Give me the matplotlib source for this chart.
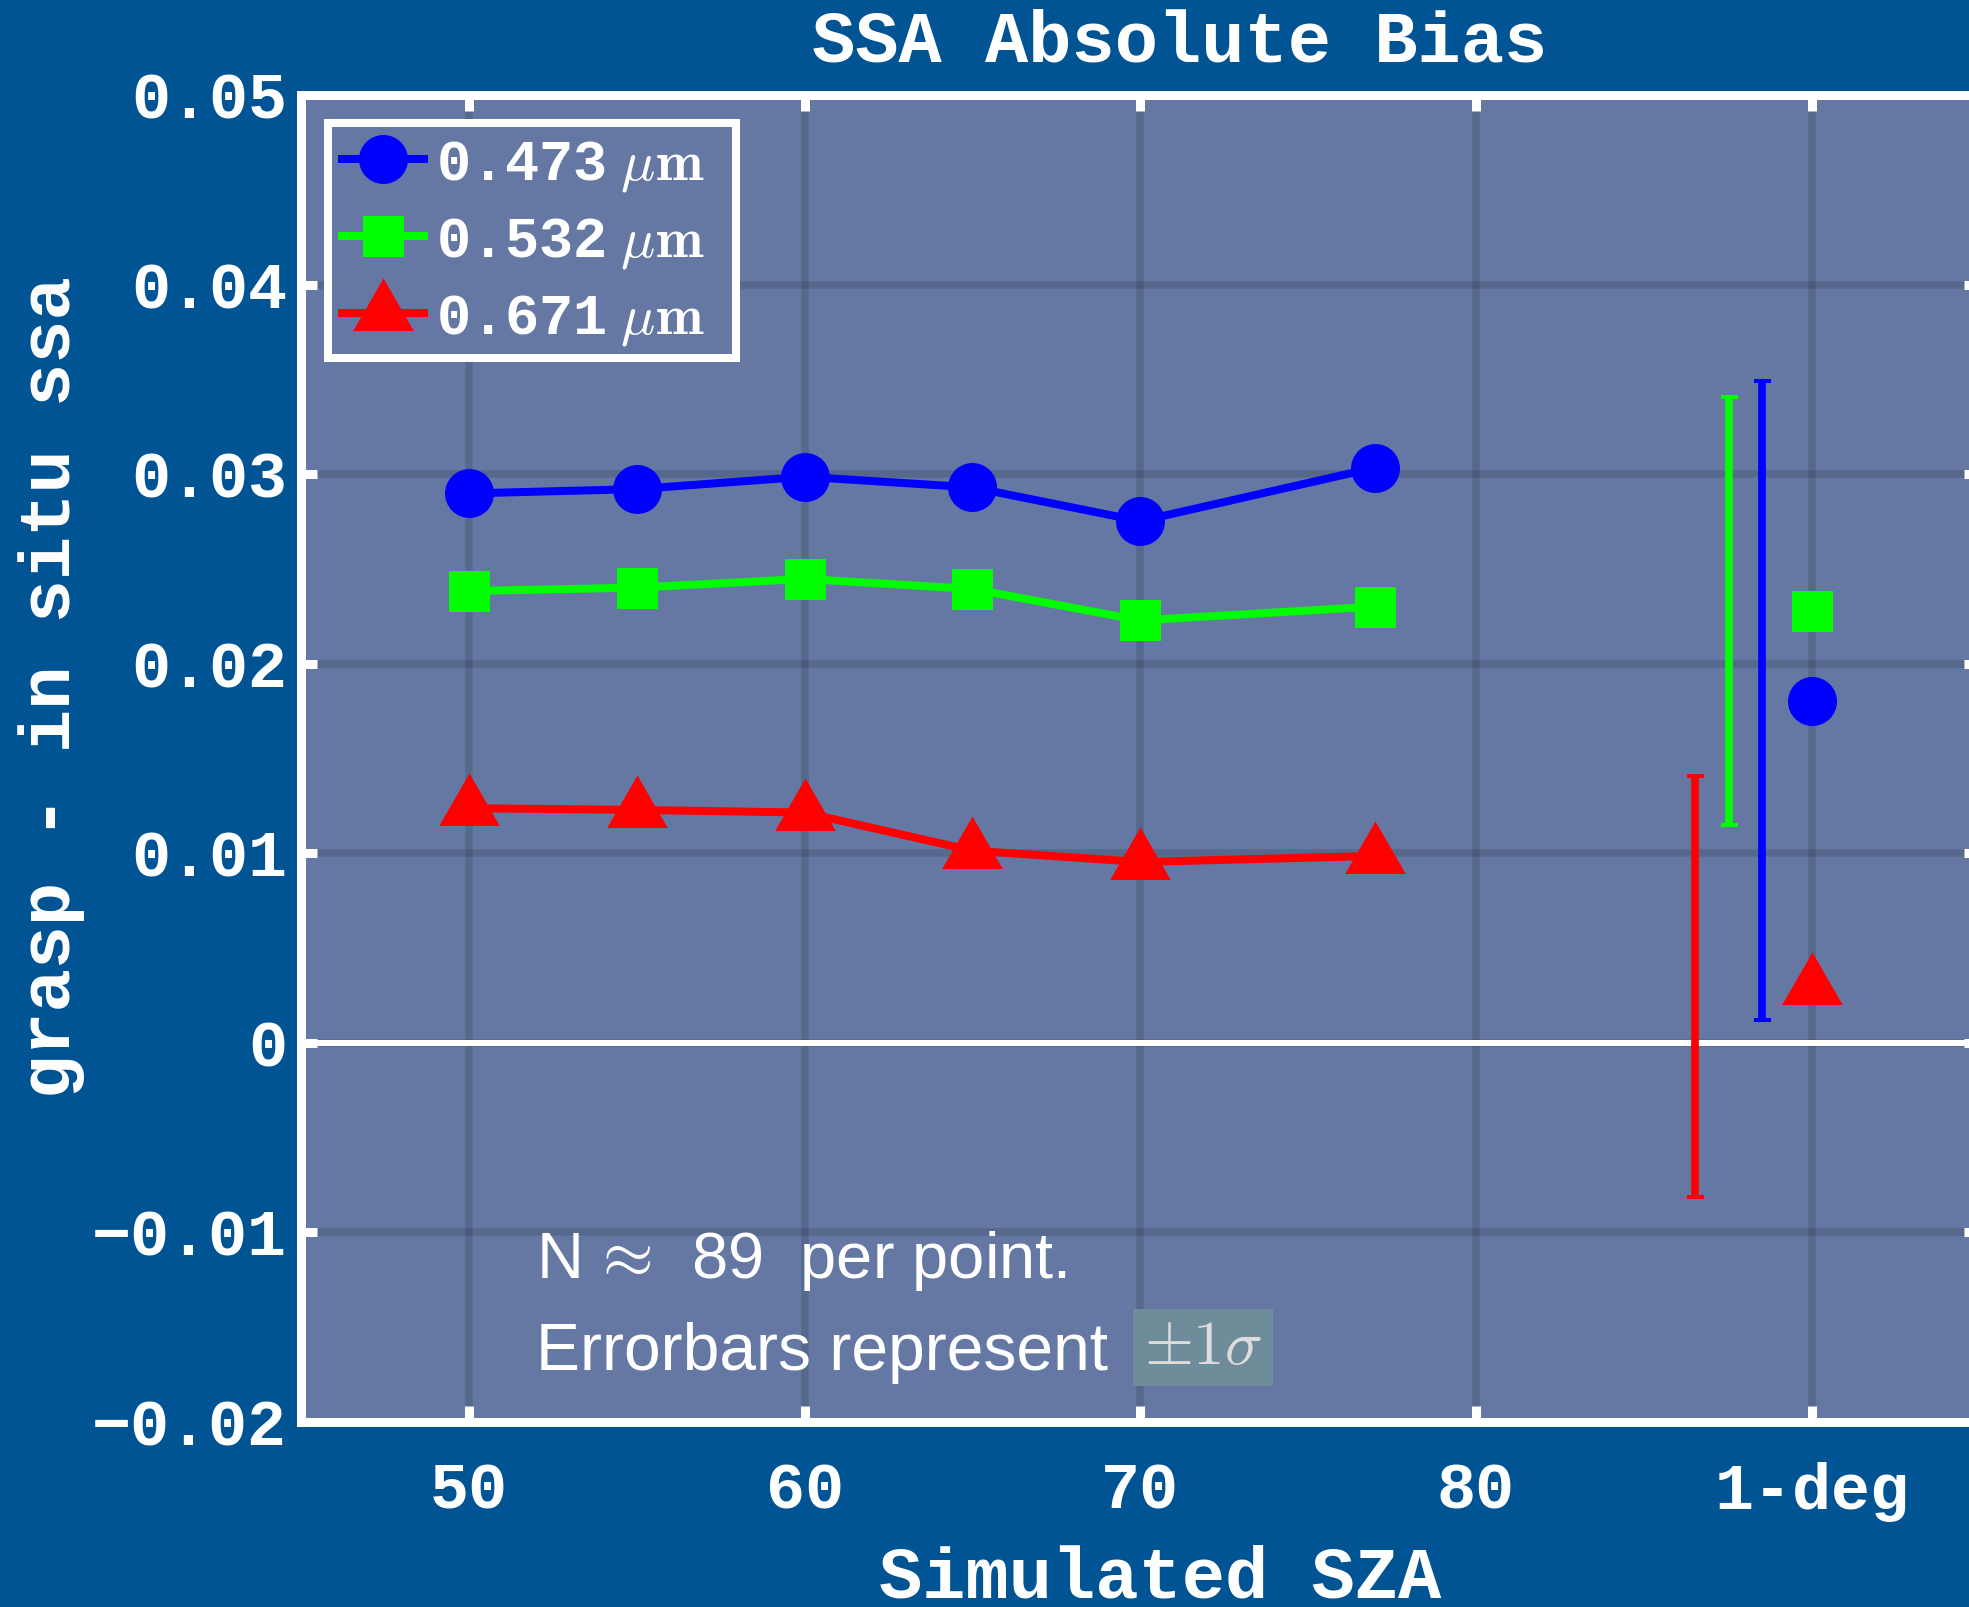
import matplotlib
matplotlib.use("Agg")
import matplotlib.pyplot as plt
from matplotlib.patches import Rectangle
import numpy as np

# ---------------- data ----------------
sza = [50, 55, 60, 65, 70, 77]
bias_473 = [0.02899, 0.02922, 0.02987, 0.02931, 0.02753, 0.03035]
bias_532 = [0.02384, 0.02402, 0.02448, 0.02395, 0.02229, 0.02302]
bias_671 = [0.01238, 0.01229, 0.01215, 0.01014, 0.00954, 0.00986]

onedeg_x = 90
onedeg_mean = [0.01806, 0.02277, 0.00297]    # 473, 532, 671
onedeg_std = [0.01686, 0.01130, 0.01112]
errbar_x = [88.53, 87.53, 86.53]

wavelengths = ['0.473', '0.532', '0.671']
colors = ['#0000ff', '#00ff00', '#ff0000']

xticks = [50, 60, 70, 80, 90]
xticklabels = ['50', '60', '70', '80', '1-deg']
yticks = [-0.02, -0.01, 0, 0.01, 0.02, 0.03, 0.04, 0.05]
yticklabels = ['\u22120.02', '\u22120.01', '0', '0.01', '0.02', '0.03', '0.04', '0.05']

n_points = 89

# ---------------- style ----------------
W, H, DPI = 1969, 1607, 200
FIG_BG = '#005493'
AX_BG = '#6578a3'
MONO = ['Liberation Mono', 'DejaVu Sans Mono']
plt.rcParams['mathtext.fontset'] = 'cm'
px = 72.0 / DPI  # points per pixel

labels = [w + r'$\;\mu\mathbf{m}$' for w in wavelengths]

fig = plt.figure(figsize=(W / DPI, H / DPI), dpi=DPI, facecolor=FIG_BG)
ax = fig.add_axes([301 / W, 1 - 1421.8 / H, 1678.5 / W, 1326.5 / H], facecolor=AX_BG)

tri = [(0, 1), (-0.866, -0.5), (0.866, -0.5)]
markers = ['o', 's', tri]
msizes = [49 * px, 41 * px, 70 * px]
lw = 8 * px

series = [bias_473, bias_532, bias_671]
for ys, c, m, ms, lab in zip(series, colors, markers, msizes, labels):
    ax.plot(sza, ys, color=c, marker=m, markersize=ms, lw=lw, label=lab,
            markeredgewidth=0, zorder=4)

for i in range(3):
    ax.errorbar(errbar_x[i], onedeg_mean[i], yerr=onedeg_std[i], fmt='none',
                ecolor=colors[i], elinewidth=7.7 * px, capsize=8.5 * px,
                capthick=4 * px, zorder=3)
    ax.plot([onedeg_x], [onedeg_mean[i]], color=colors[i], marker=markers[i],
            markersize=msizes[i], markeredgewidth=0, lw=0, zorder=4)

ax.axhline(0, color='white', lw=6 * px, zorder=2)

ax.set_xlim(45, 95)
ax.set_ylim(-0.02, 0.05)
ax.set_xticks(xticks)
ax.set_xticklabels(xticklabels)
ax.set_yticks(yticks)
ax.set_yticklabels(yticklabels)
ax.grid(True, color='black', alpha=0.13, lw=7.5 * px)
ax.set_axisbelow(True)

for sp in ax.spines.values():
    sp.set_color('white')
    sp.set_linewidth(9 * px)

ax.tick_params(axis='both', which='both', direction='in', length=16 * px,
               width=9 * px, color='white', labelcolor='white',
               top=True, right=True)
ax.tick_params(axis='y', pad=14 * px)
ax.tick_params(axis='x', pad=40 * px)
for t in ax.get_xticklabels() + ax.get_yticklabels():
    t.set_family(MONO)
    t.set_weight('bold')
    t.set_fontsize(65 * px)

# titles / labels
fig.text(1180 / W, 1 - 62 / H, 'SSA Absolute Bias', ha='center', va='baseline',
         color='white', family=MONO, weight='bold', fontsize=72 * px)
fig.text(1160 / W, 1 - 1597 / H, 'Simulated SZA', ha='center', va='baseline',
         color='white', family=MONO, weight='bold', fontsize=72 * px)
fig.text(70 / W, 1 - 687 / H, 'grasp - in situ ssa', ha='center', va='baseline',
         rotation=90, rotation_mode='anchor', color='white', family=MONO,
         weight='bold', fontsize=72 * px)

# legend frame (drawn as a box) + legend entries
legend_box = Rectangle((328 / W, 1 - 358 / H), 408 / W, 235 / H,
                       transform=fig.transFigure, facecolor=AX_BG,
                       edgecolor='white', lw=8 * px, zorder=4.5)
ax.add_patch(legend_box)
legend_box.set_clip_on(False)
leg = ax.legend(loc='upper left', bbox_to_anchor=(328 / W, 1 - 123 / H),
                bbox_transform=fig.transFigure, borderaxespad=0,
                prop={'family': MONO, 'weight': 'bold', 'size': 57 * px},
                handlelength=1.44, handletextpad=0.2, borderpad=0.25,
                labelspacing=0.36, frameon=False, numpoints=1)
leg.set_zorder(6)
for t in leg.get_texts():
    t.set_color('white')

# annotations
SANS = ['Liberation Sans', 'DejaVu Sans']
fig.text(536 / W, 1 - 1278 / H, r'N $\!\approx\!$  %d  per point.' % n_points, ha='left',
         va='baseline', color='white', family=SANS, fontsize=65 * px)
fig.text(536 / W, 1 - 1370 / H, 'Errorbars represent', ha='left',
         va='baseline', color='white', family=SANS, fontsize=66 * px)
fig.patches.append(Rectangle((1133 / W, 1 - 1386 / H), 140 / W, 77 / H,
                             transform=fig.transFigure, facecolor='#6f8c9b',
                             edgecolor='none', zorder=5))
fig.text(1203 / W, 1 - 1347 / H, r'$\pm 1\sigma$', ha='center', va='center',
         color='#dcdcdc', fontsize=63 * px, zorder=6)

fig.savefig('out.png', dpi=DPI, facecolor=FIG_BG)
